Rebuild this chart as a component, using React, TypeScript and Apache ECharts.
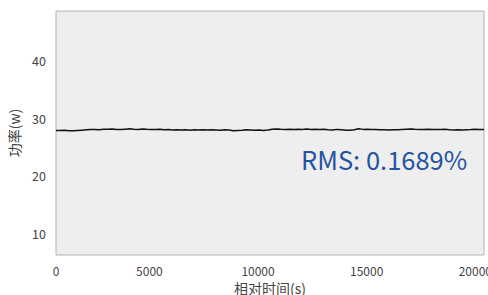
import React, { useEffect, useRef } from "react";
import * as echarts from "echarts";

const X_MIN = 700;
const X_MAX = 20400;
const Y_MIN = 6.2;
const Y_MAX = 48.7;
const X_NAME = "相对时间(s)";
const Y_NAME = "功率(w)";
const RMS_TEXT = "RMS: 0.1689%";

// power readings (W), sampled uniformly across the time window
const POWER = [
  27.9, 27.88, 27.92, 27.86,
  27.84, 27.9, 27.95, 28.0, 28.05,
  28.08, 28.02, 28.12, 28.1,
  28.15, 28.08, 28.05, 28.12, 28.18,
  28.1, 28.06, 28.14, 28.1, 28.08,
  28.05, 28.1, 28.0, 28.04, 27.98,
  28.02, 27.96, 28.0, 27.95, 28.03, 27.98,
  28.0, 27.97, 28.02, 27.99, 27.95, 28.0, 27.96,
  27.85, 27.9, 27.94, 28.02, 27.98,
  27.92, 27.96, 27.9, 27.98, 28.12, 28.16,
  28.1, 28.08, 28.12, 28.06, 28.1, 28.08, 28.13, 28.07, 28.1, 28.05, 28.09,
  28.0, 27.96, 28.08, 28.03,
  27.95, 27.92, 28.0, 28.2,
  28.08, 28.1, 28.04, 28.07, 28.0, 28.03,
  27.98, 28.0, 28.02, 28.08,
  28.12, 28.16, 28.1, 28.05,
  28.06, 28.1, 28.04, 28.08, 28.06, 28.1, 28.03,
  27.98, 28.0, 27.96, 28.02, 28.05, 28.1, 28.04, 28.08,
];

const FONT = "'Noto Sans CJK SC', 'Noto Sans', sans-serif";

export default function App() {
  const ref = useRef<HTMLDivElement>(null);
  useEffect(() => {
    if (!ref.current) return;
    const chart = echarts.init(ref.current, undefined, { renderer: "svg" });
    const step = (X_MAX - X_MIN) / (POWER.length - 1);
    const data = POWER.map((v, i) => [X_MIN + i * step, v]);
    chart.setOption({
      animation: false,
      textStyle: { fontFamily: FONT },
      grid: {
        left: 56,
        top: 11,
        right: 4,
        bottom: 40,
        containLabel: false,
        outerBoundsMode: "none",
        show: true,
        backgroundColor: "#eeeeee",
        borderColor: "#b4b4b4",
        borderWidth: 1,
      },
      xAxis: {
        type: "value",
        min: X_MIN,
        max: X_MAX,
        splitNumber: 4,
        name: X_NAME,
        nameLocation: "middle",
        nameGap: 21,
        nameTextStyle: { fontSize: 14, color: "#444", fontFamily: FONT },
        axisLine: { show: false },
        axisTick: { show: false },
        splitLine: { show: false },
        axisLabel: {
          showMinLabel: true,
          showMaxLabel: false,
          fontSize: 12,
          color: "#444",
          margin: 9,
          fontFamily: FONT,
          formatter: (v: number) => (v === X_MIN ? "0" : String(v)),
        },
      },
      yAxis: {
        type: "value",
        min: Y_MIN,
        max: Y_MAX,
        splitNumber: 4,
        name: Y_NAME,
        nameLocation: "middle",
        nameGap: 33,
        nameTextStyle: { fontSize: 14, color: "#444", fontFamily: FONT },
        axisLine: { show: false },
        axisTick: { show: false },
        splitLine: { show: false },
        axisLabel: {
          showMinLabel: false,
          showMaxLabel: false,
          fontSize: 12.5,
          color: "#444",
          margin: 10,
          fontFamily: FONT,
        },
      },
      graphic: [
        {
          type: "text",
          left: 301,
          top: 146,
          style: {
            text: RMS_TEXT,
            fill: "#2553a3",
            font: `25.5px 'Noto Sans CJK SC', 'Noto Sans', sans-serif`,
          },
        },
      ],
      series: [
        {
          type: "line",
          data,
          symbol: "none",
          lineStyle: { color: "#111", width: 1.5 },
        },
      ],
    });
    return () => chart.dispose();
  }, []);
  return <div ref={ref} style={{ width: 488, height: 295, position: "absolute", left: 0, top: 0 }} />;
}
